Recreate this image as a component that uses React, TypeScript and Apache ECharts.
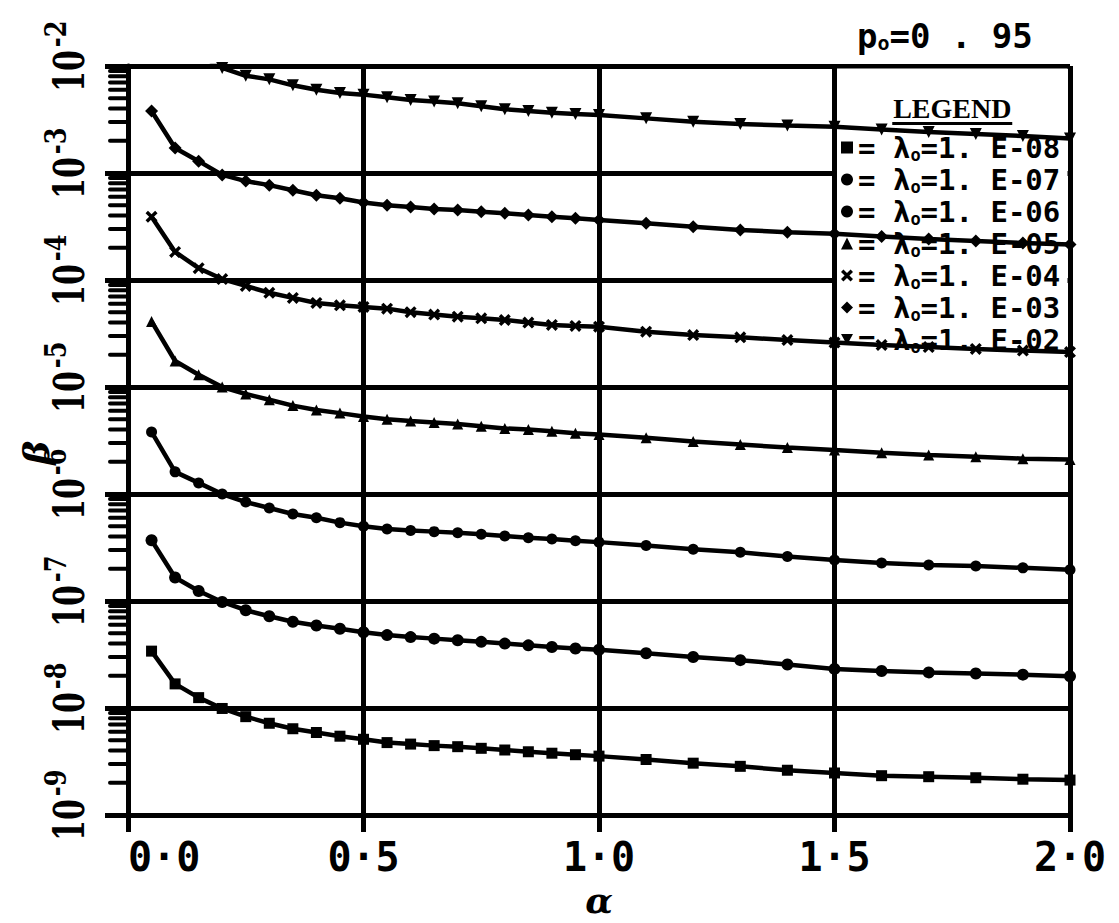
import React, { useEffect, useRef } from "react";
import * as echarts from "echarts";

// ---- data ----
const alphaValues = [
  0.05, 0.1, 0.15, 0.2, 0.25, 0.3, 0.35, 0.4, 0.45, 0.5, 0.55, 0.6, 0.65, 0.7, 0.75,
  0.8, 0.85, 0.9, 0.95, 1.0, 1.1, 1.2, 1.3, 1.4, 1.5, 1.6, 1.7, 1.8, 1.9, 2.0,
];

const betaLambda8 = [
  3.4e-8, 1.68e-8, 1.25e-8, 9.9e-9, 8.3e-9, 7.2e-9, 6.4e-9, 5.9e-9, 5.45e-9, 5.1e-9,
  4.75e-9, 4.6e-9, 4.45e-9, 4.35e-9, 4.2e-9, 4.05e-9, 3.9e-9, 3.78e-9, 3.66e-9, 3.55e-9,
  3.3e-9, 3.05e-9, 2.85e-9, 2.62e-9, 2.47e-9, 2.33e-9, 2.28e-9, 2.23e-9, 2.16e-9, 2.12e-9,
];
const betaLambda7 = [
  3.7e-7, 1.66e-7, 1.24e-7, 9.8e-8, 8.2e-8, 7.2e-8, 6.4e-8, 5.9e-8, 5.5e-8, 5.1e-8,
  4.8e-8, 4.6e-8, 4.45e-8, 4.3e-8, 4.15e-8, 4.0e-8, 3.85e-8, 3.72e-8, 3.6e-8, 3.5e-8,
  3.25e-8, 3.0e-8, 2.8e-8, 2.55e-8, 2.32e-8, 2.22e-8, 2.15e-8, 2.1e-8, 2.05e-8, 1.98e-8,
];
const betaLambda6 = [
  3.8e-6, 1.61e-6, 1.27e-6, 1.0e-6, 8.4e-7, 7.4e-7, 6.5e-7, 6.0e-7, 5.4e-7, 5.0e-7,
  4.7e-7, 4.55e-7, 4.45e-7, 4.35e-7, 4.2e-7, 4.05e-7, 3.9e-7, 3.8e-7, 3.65e-7, 3.55e-7,
  3.3e-7, 3.05e-7, 2.85e-7, 2.6e-7, 2.42e-7, 2.27e-7, 2.17e-7, 2.12e-7, 2.04e-7, 1.96e-7,
];
const betaLambda5 = [
  4.1e-5, 1.75e-5, 1.3e-5, 1.0e-5, 8.6e-6, 7.6e-6, 6.7e-6, 6.1e-6, 5.7e-6, 5.3e-6,
  5.0e-6, 4.8e-6, 4.65e-6, 4.5e-6, 4.3e-6, 4.1e-6, 4.0e-6, 3.85e-6, 3.7e-6, 3.6e-6,
  3.35e-6, 3.1e-6, 2.9e-6, 2.72e-6, 2.58e-6, 2.43e-6, 2.31e-6, 2.23e-6, 2.14e-6, 2.1e-6,
];
const betaLambda4 = [
  3.9e-4, 1.83e-4, 1.29e-4, 1.02e-4, 8.8e-5, 7.6e-5, 6.8e-5, 6.1e-5, 5.8e-5, 5.6e-5,
  5.4e-5, 5.0e-5, 4.75e-5, 4.54e-5, 4.38e-5, 4.23e-5, 4.0e-5, 3.8e-5, 3.72e-5, 3.66e-5,
  3.29e-5, 3.06e-5, 2.91e-5, 2.75e-5, 2.6e-5, 2.47e-5, 2.36e-5, 2.27e-5, 2.19e-5, 2.12e-5,
];
const betaLambda3 = [
  3.8e-3, 1.71e-3, 1.29e-3, 9.6e-4, 8.4e-4, 7.7e-4, 6.9e-4, 6.2e-4, 5.8e-4, 5.3e-4,
  5.0e-4, 4.8e-4, 4.6e-4, 4.5e-4, 4.35e-4, 4.2e-4, 4.05e-4, 3.9e-4, 3.77e-4, 3.64e-4,
  3.39e-4, 3.15e-4, 2.93e-4, 2.8e-4, 2.7e-4, 2.55e-4, 2.42e-4, 2.32e-4, 2.22e-4, 2.15e-4,
];
const betaLambda2 = [
  3.8e-2, 1.72e-2, 1.28e-2, 9.6e-3, 8.1e-3, 7.5e-3, 6.6e-3, 6.0e-3, 5.6e-3, 5.4e-3,
  5.1e-3, 4.8e-3, 4.65e-3, 4.48e-3, 4.2e-3, 3.95e-3, 3.8e-3, 3.66e-3, 3.56e-3, 3.48e-3,
  3.24e-3, 3.02e-3, 2.87e-3, 2.78e-3, 2.7e-3, 2.55e-3, 2.42e-3, 2.32e-3, 2.22e-3, 2.1e-3,
];

const lambdaLabels = ["1. E-08", "1. E-07", "1. E-06", "1. E-05", "1. E-04", "1. E-03", "1. E-02"];
const seriesValues = [betaLambda8, betaLambda7, betaLambda6, betaLambda5, betaLambda4, betaLambda3, betaLambda2];

const xTickLabels = ["0·0", "0·5", "1·0", "1·5", "2·0"];
const yTickValues = [1e-9, 1e-8, 1e-7, 1e-6, 1e-5, 1e-4, 1e-3, 1e-2];
const yTickExponents = ["-9", "-8", "-7", "-6", "-5", "-4", "-3", "-2"];
const minorMantissas = [2, 3, 4, 5, 6, 7, 8, 9];
const minorDecades = [-9, -8, -7, -6, -5, -4, -3];
const titleText = "p{s|o}=0 . 95";

// ---- styling ----
const XSYM = "path://M0,2 L2,0 L5,3 L8,0 L10,2 L7,5 L10,8 L8,10 L5,7 L2,10 L0,8 L3,5 Z";
const TRIDOWN = "path://M0,0 L10,0 L5,9 Z";
const symbols = ["rect", "circle", "circle", "triangle", XSYM, "diamond", TRIDOWN];
const symbolSizes = [11, 12, 11, 11, 12, 13, 12];
const MONO = "'DejaVu Sans Mono', 'Liberation Mono', monospace";
const SERIF = "'Liberation Serif', 'DejaVu Serif', serif";
const HEAVY_SERIF = "'DejaVu Serif', 'Liberation Serif', serif";

export default function App() {
  const ref = useRef<HTMLDivElement>(null);

  useEffect(() => {
    document.body.style.margin = "0";
    if (!ref.current) return;
    const chart = echarts.init(ref.current, undefined, { renderer: "svg" });

    const names = lambdaLabels.map((l) => "λ=" + l);
    const lineSeries = seriesValues.map((vals, i) => ({
      name: names[i],
      type: "line",
      data: alphaValues.map((a, j) => [a, vals[j]]),
      symbol: symbols[i],
      symbolSize: symbolSizes[i],
      showSymbol: true,
      z: 3,
      clip: true,
      lineStyle: { color: "#000", width: 4.5 },
      itemStyle: { color: "#000" },
      emphasis: { disabled: true },
    }));

    const minorTicks: number[][] = [];
    minorDecades.forEach((d) => minorMantissas.forEach((m) => minorTicks.push([0, m * Math.pow(10, d)])));

    const option: any = {
      animation: false,
      backgroundColor: "#fff",
      title: {
        text: titleText,
        left: 852,
        top: 14,
        textStyle: {
          fontFamily: MONO,
          fontWeight: "bold",
          fontSize: 34,
          color: "#000",
          rich: {
            s: { fontFamily: MONO, fontWeight: "bold", fontSize: 20, color: "#000", verticalAlign: "bottom", padding: [14, 0, 0, 0] },
          },
        },
      },
      grid: { left: 128, right: 49, top: 66, bottom: 108, containLabel: false, outerBoundsMode: "none" },
      xAxis: {
        type: "value",
        min: 0,
        max: 2,
        interval: 0.5,
        name: "α",
        nameLocation: "middle",
        nameGap: 50,
        nameTextStyle: { fontFamily: "'DejaVu Serif', serif", fontStyle: "italic", fontWeight: "bold", fontSize: 36, color: "#000" },
        axisLine: { show: true, onZero: false, lineStyle: { color: "#000", width: 5 } },
        axisTick: { show: true, length: 17, lineStyle: { color: "#000", width: 5 } },
        axisLabel: {
          formatter: (v: number) => xTickLabels[Math.round(v / 0.5)],
          fontFamily: MONO,
          fontWeight: "bold",
          fontSize: 40,
          color: "#000",
          margin: 22,
          alignMinLabel: "left",
        },
        splitLine: { show: true, lineStyle: { color: "#000", width: 5 } },
      },
      yAxis: {
        type: "log",
        logBase: 10,
        min: 1e-9,
        max: 1e-2,
        splitNumber: 7,
        name: "β",
        nameLocation: "middle",
        nameRotate: 90,
        nameGap: 74,
        nameTextStyle: { fontFamily: "'DejaVu Serif', serif", fontStyle: "italic", fontWeight: "bold", fontSize: 36, color: "#000", padding: [0, 24, 0, 0] },
        axisLine: { show: true, lineStyle: { color: "#000", width: 5 } },
        axisTick: { show: true, length: 23, lineStyle: { color: "#000", width: 5 } },
        axisLabel: { show: false },
        splitLine: { show: true, lineStyle: { color: "#000", width: 5 } },
      },
      legend: {
        orient: "vertical",
        left: 836,
        top: 127,
        itemWidth: 12,
        itemHeight: 12,
        itemGap: 1,
        z: 2,
        selectedMode: false,
        data: names.map((n, i) => ({ name: n, icon: symbols[i] })),
        formatter: (n: string) => "= λ{s|o}=" + n.slice(2),
        textStyle: {
          fontFamily: MONO,
          fontWeight: "bold",
          fontSize: 29,
          color: "#000",
          lineHeight: 31,
          rich: {
            s: { fontFamily: MONO, fontWeight: "bold", fontSize: 17, color: "#000", verticalAlign: "bottom", lineHeight: 17 },
          },
        },
        itemStyle: { color: "#000" },
      },
      series: [
        ...lineSeries,
        {
          name: "minorTicks",
          type: "custom",
          silent: true,
          clip: false,
          z: 3,
          data: minorTicks,
          renderItem: (params: any, api: any) => {
            const p = api.coord([api.value(0), api.value(1)]);
            return {
              type: "line",
              shape: { x1: p[0] - 18, y1: p[1], x2: p[0], y2: p[1] },
              style: { stroke: "#000", lineWidth: 4, lineCap: "round" },
            };
          },
        },
        {
          name: "yTickLabels",
          type: "custom",
          silent: true,
          clip: false,
          z: 3,
          data: yTickValues.map((v) => [0, v]),
          renderItem: (params: any, api: any) => {
            const p = api.coord([api.value(0), api.value(1)]);
            const exp = yTickExponents[params.dataIndex];
            return {
              type: "group",
              children: [
                {
                  type: "text",
                  x: p[0] - 58,
                  y: p[1] + 5,
                  rotation: Math.PI / 2,
                  scaleX: 0.72,
                  style: { text: "10", font: "bold 42px " + HEAVY_SERIF, fill: "#000", align: "center", verticalAlign: "middle" },
                },
                {
                  type: "text",
                  x: p[0] - 73,
                  y: p[1] - 32,
                  rotation: Math.PI / 2,
                  scaleX: 0.8,
                  style: { text: exp, font: "bold 30px " + HEAVY_SERIF, fill: "#000", align: "center", verticalAlign: "middle" },
                },
              ],
            };
          },
        },
      ],
    };

    chart.setOption(option);

    // legend background cell between the 1.5 and 2.0 grid lines (positions from the axes)
    const pTL = chart.convertToPixel({ gridIndex: 0 }, [1.5, 1e-2]) as number[];
    const pBR = chart.convertToPixel({ gridIndex: 0 }, [2.0, 2.75e-5]) as number[];
    const x0 = pTL[0] + 2.5;
    const x1 = pBR[0] - 2.5;
    const y0 = pTL[1] + 2.5;
    const y1 = pBR[1];
    const cx = (x0 + x1) / 2;
    chart.setOption({
      graphic: [
        { type: "rect", z: 1, silent: true, shape: { x: x0, y: y0, width: x1 - x0, height: y1 - y0 }, style: { fill: "#fff" } },
        {
          type: "text",
          z: 2,
          x: cx,
          y: y0 + 40,
          style: { text: "LEGEND", fill: "#000", font: "bold 28px " + SERIF, align: "center", verticalAlign: "middle", textAlign: "center", textVerticalAlign: "middle" },
        },
        { type: "line", z: 2, shape: { x1: cx - 60, y1: y0 + 55, x2: cx + 60, y2: y0 + 55 }, style: { stroke: "#000", lineWidth: 3 } },
      ],
    });

    return () => chart.dispose();
  }, []);

  return <div ref={ref} style={{ width: 1119, height: 923 }} />;
}
